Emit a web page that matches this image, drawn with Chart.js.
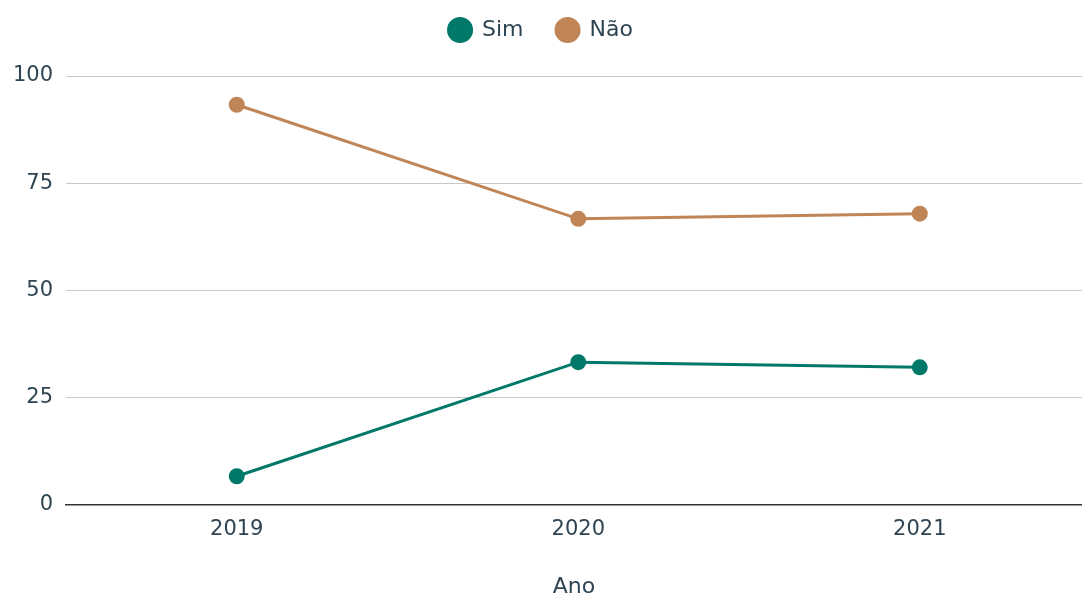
<!DOCTYPE html>
<html>
<head>
<meta charset="utf-8">
<script src="https://cdn.jsdelivr.net/npm/chart.js@4"></script>
<style>
html,body{margin:0;padding:0;background:#fff;}
#wrap{width:1082px;height:596px;position:relative;}
</style>
</head>
<body>
<div id="wrap"><canvas id="c" width="1082" height="596"></canvas></div>
<script>
const years = [2019, 2020, 2021];
const sim = [6.7, 33.3, 32.1];
const nao = [93.3, 66.7, 67.9];
const yTicks = [0, 25, 50, 75, 100];
const seriesNames = ['Sim', 'Não'];

const textColor = '#2f4553';
const font = "'DejaVu Sans', Verdana, sans-serif";

const legendFit = {
  id: 'legendFit',
  beforeInit(chart) {
    const orig = chart.legend.fit;
    chart.legend.fit = function () { orig.call(this); this.height = 90; };
  }
};

new Chart(document.getElementById('c'), {
  type: 'line',
  data: {
    datasets: [
      {label: seriesNames[0], data: years.map((y, i) => ({x: y, y: sim[i]})),
       borderColor: '#00796a', backgroundColor: '#00796a', pointBackgroundColor: '#00796a',
       borderWidth: 3, pointRadius: 6.5, pointHoverRadius: 6.5, tension: 0},
      {label: seriesNames[1], data: years.map((y, i) => ({x: y, y: nao[i]})),
       borderColor: '#c08556', backgroundColor: '#c08556', pointBackgroundColor: '#c08556',
       borderWidth: 3, pointRadius: 6.5, pointHoverRadius: 6.5, tension: 0}
    ]
  },
  options: {
    responsive: false,
    animation: false,
    layout: {autoPadding: false, padding: {top: -14, right: 0, left: 0, bottom: 0}},
    plugins: {
      legend: {
        position: 'top',
        labels: {usePointStyle: true, pointStyle: 'circle', boxWidth: 22, boxHeight: 16.3,
                 padding: 33, color: textColor, font: {family: font, size: 22}}
      },
      tooltip: {enabled: false}
    },
    scales: {
      x: {
        type: 'linear', min: 2018.5, max: 2021.475,
        afterBuildTicks: s => { s.ticks = years.map(v => ({value: v})); },
        afterFit: s => { s.height = 91; s.paddingLeft = 0; s.paddingRight = 0; },
        grid: {display: false, drawTicks: false},
        border: {display: true, color: '#333', width: 1.5},
        ticks: {color: textColor, font: {family: font, size: 21}, padding: 12,
                callback: v => String(v)},
        title: {display: true, text: 'Ano', color: textColor,
                font: {family: font, size: 22, lineHeight: 1}, padding: {top: 0, bottom: -2}}
      },
      y: {
        min: 0, max: 100,
        afterBuildTicks: s => { s.ticks = yTicks.map(v => ({value: v})); },
        afterFit: s => { s.width = 66; },
        grid: {color: c => c.tick.value === 0 ? 'rgba(0,0,0,0)' : '#c8c8c8', lineWidth: 1, drawTicks: false},
        border: {display: false},
        ticks: {color: textColor, font: {family: font, size: 21}, padding: 13}
      }
    }
  },
  plugins: [legendFit]
});
</script>
</body>
</html>
